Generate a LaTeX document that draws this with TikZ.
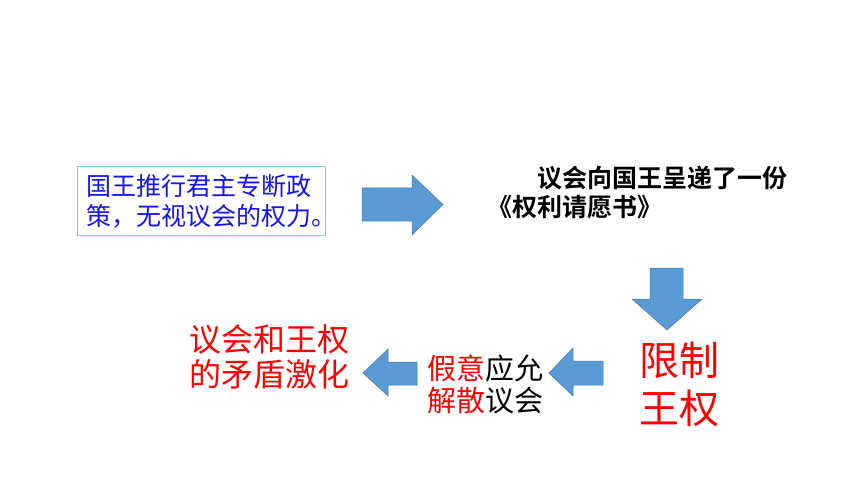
\documentclass[tikz,border=0pt]{standalone}
\usepackage{fontspec}
\newfontfamily\cjk{Noto Sans CJK SC}[BoldFont={Noto Sans CJK SC Bold}]
\usepackage{xcolor}
\usepackage{tikz}

\definecolor{arrowfill}{RGB}{91,155,213}
\definecolor{arrowedge}{RGB}{70,120,165}
\definecolor{boxedge}{RGB}{125,205,240}
\definecolor{textblue}{RGB}{20,20,235}
\definecolor{textred}{RGB}{255,0,0}

\tikzset{
	blockarrow/.style={fill=arrowfill, draw=arrowedge, line width=0.5pt, line join=miter},
	steptext/.style={inner sep=0pt, align=center},
}

\begin{document}
\begin{tikzpicture}[x=1pt,y=-1pt]
		\useasboundingbox (0,0) rectangle (860,484);

		\node[draw=boxedge, line width=1pt, minimum width=248pt, minimum height=68pt, inner sep=0pt, text width=230pt, align=left, text=textblue, font=\cjk\fontsize{25}{30}\selectfont] (wangzheng) at (201,201) {国王推行君主专断政\\策，无视议会的权力。};

		\node[steptext, align=left, font=\cjk\bfseries\fontsize{25}{29}\selectfont] (qingyuan) at (637,192.5) {\hspace*{2em}议会向国王呈递了一份\\《权利请愿书》};

		\node[steptext, text=textred, font=\cjk\fontsize{40}{48}\selectfont] (xianzhi) at (679.5,384.5) {限制\\王权};

		\node[steptext, font=\cjk\fontsize{29}{32}\selectfont] (jieshan) at (485,384.5) {\textcolor{textred}{假意}应允\\\textcolor{textred}{解散}议会};

		\node[steptext, text=textred, font=\cjk\fontsize{32}{35}\selectfont] (jihua) at (269.5,357) {议会和王权\\的矛盾激化};

		% block arrows
		\draw[blockarrow] (362,188) -- (412,188) -- (412,175) -- (443,204.5) -- (412,235) -- (412,221) -- (362,221) -- cycle;
		\draw[blockarrow] (650,268) -- (683,268) -- (683,299) -- (702,299) -- (667,330) -- (632,299) -- (650,299) -- cycle;
		\draw[blockarrow] (603,361) -- (573,361) -- (573,348) -- (549,373) -- (573,396) -- (573,385) -- (603,385) -- cycle;
		\draw[blockarrow] (417,362) -- (388,362) -- (388,349) -- (363,373) -- (388,396) -- (388,385) -- (417,385) -- cycle;
	\end{tikzpicture}
\end{document}
